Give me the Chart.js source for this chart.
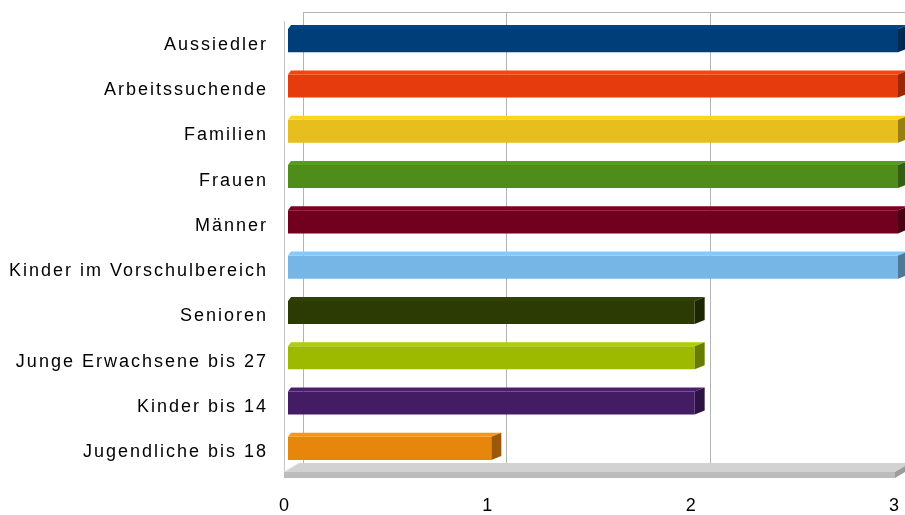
<!DOCTYPE html>
<html>
<head>
<meta charset="utf-8">
<script src="https://cdn.jsdelivr.net/npm/chart.js@4"></script>
<style>
    html, body { margin: 0; padding: 0; background: #fff; }
    #wrap { width: 905px; height: 515px; }
</style>
</head>
<body>
<div id="wrap"><canvas id="bar-chart-groups"></canvas></div>
<script>
    const categories = [
        'Aussiedler',
        'Arbeitssuchende',
        'Familien',
        'Frauen',
        'Männer',
        'Kinder im Vorschulbereich',
        'Senioren',
        'Junge Erwachsene bis 27',
        'Kinder bis 14',
        'Jugendliche bis 18'
    ];
    const counts = [3, 3, 3, 3, 3, 3, 2, 2, 2, 1];
    const xTicks = [0, 1, 2, 3];

    const baseColors = [
        '#004586', '#ff420e', '#ffd320', '#579d1c', '#7e0021',
        '#83caff', '#314004', '#aecf00', '#4b1f6f', '#ff950e'
    ];

    function shade(hex, f) {
        const n = parseInt(hex.slice(1), 16);
        const r = Math.round(((n >> 16) & 255) * f);
        const g = Math.round(((n >> 8) & 255) * f);
        const b = Math.round((n & 255) * f);
        return 'rgb(' + r + ',' + g + ',' + b + ')';
    }

    function noPadding(scale) {
        scale.paddingTop = 0;
        scale.paddingBottom = 0;
        scale.paddingLeft = 0;
        scale.paddingRight = 0;
    }

    // ------------------- 3D walls, floor and bar faces ------------------
    const depthX = 15, depthY = 9;     // back wall offset
    const barDX = 10, barDY = 4;       // bar depth

    const pseudo3d = {
        id: 'pseudo3d',
        beforeDraw(chart) {
            chart.ctx.letterSpacing = '2px';
        },
        beforeDatasetsDraw(chart) {
            const ctx = chart.ctx;
            const xs = chart.scales.x;
            const area = chart.chartArea;
            const x0 = xs.getPixelForValue(0);
            const xEnd = xs.getPixelForValue(xTicks[xTicks.length - 1]);
            const floorY = area.bottom + 1;
            const wallTop = area.top - 6;
            ctx.save();
            // back wall grid lines
            ctx.strokeStyle = '#b3b3b3';
            ctx.lineWidth = 1;
            xTicks.forEach(v => {
                const gx = Math.round(xs.getPixelForValue(v) + depthX) + 0.5;
                ctx.beginPath();
                ctx.moveTo(gx, wallTop);
                ctx.lineTo(gx, floorY - depthY);
                ctx.stroke();
            });
            ctx.beginPath();
            ctx.moveTo(x0 + depthX, wallTop + 0.5);
            ctx.lineTo(chart.width, wallTop + 0.5);
            ctx.stroke();
            // side wall edge
            ctx.strokeStyle = '#c4c4c4';
            ctx.beginPath();
            ctx.moveTo(x0 - 3.5, wallTop + depthY);
            ctx.lineTo(x0 - 3.5, floorY);
            ctx.stroke();
            // floor top
            ctx.fillStyle = '#d2d2d2';
            ctx.beginPath();
            ctx.moveTo(x0 - 4, floorY);
            ctx.lineTo(xEnd - 3, floorY);
            ctx.lineTo(xEnd - 3 + depthX, floorY - depthY);
            ctx.lineTo(x0 - 4 + depthX, floorY - depthY);
            ctx.closePath();
            ctx.fill();
            // floor front
            ctx.fillStyle = '#bcbcbc';
            ctx.fillRect(x0 - 4, floorY, xEnd - x0 + 1, 6);
            // floor right side
            ctx.fillStyle = '#9c9c9c';
            ctx.beginPath();
            ctx.moveTo(xEnd - 3, floorY);
            ctx.lineTo(xEnd - 3 + depthX, floorY - depthY);
            ctx.lineTo(xEnd - 3 + depthX, floorY - depthY + 6);
            ctx.lineTo(xEnd - 3, floorY + 6);
            ctx.closePath();
            ctx.fill();
            // corner line on floor
            ctx.strokeStyle = '#e6e6e6';
            ctx.beginPath();
            ctx.moveTo(x0 - 4, floorY);
            ctx.lineTo(x0 - 4 + depthX, floorY - depthY);
            ctx.stroke();
            ctx.restore();
        },
        afterDatasetsDraw(chart) {
            const ctx = chart.ctx;
            const meta = chart.getDatasetMeta(0);
            ctx.save();
            meta.data.forEach((bar, i) => {
                const p = bar.getProps(['x', 'y', 'base', 'height'], true);
                const top = p.y - p.height / 2;
                const bot = p.y + p.height / 2;
                // top face
                ctx.fillStyle = shade(baseColors[i], 1.0);
                ctx.beginPath();
                ctx.moveTo(p.base, top);
                ctx.lineTo(p.base + 3, top - barDY);
                ctx.lineTo(p.x + barDX, top - barDY);
                ctx.lineTo(p.x, top);
                ctx.closePath();
                ctx.fill();
                // right face
                ctx.fillStyle = shade(baseColors[i], 0.6);
                ctx.beginPath();
                ctx.moveTo(p.x, top);
                ctx.lineTo(p.x + barDX, top - barDY);
                ctx.lineTo(p.x + barDX, bot - barDY);
                ctx.lineTo(p.x, bot);
                ctx.closePath();
                ctx.fill();
            });
            ctx.restore();
        }
    };

    const data = {
        labels: categories,
        datasets: [{
            data: counts,
            backgroundColor: baseColors.map(c => shade(c, 0.9)),
            borderWidth: 0,
            categoryPercentage: 1,
            barPercentage: 0.51
        }]
    };

    // ------------------- Chart Options ------------------
    const chartOptions = {
        indexAxis: 'y',
        responsive: true,
        maintainAspectRatio: false,
        animation: false,
        layout: {
            padding: { top: 18, right: 7, left: 0, bottom: 0 }
        },
        plugins: {
            legend: { display: false },
            tooltip: { enabled: false }
        },
        scales: {
            x: {
                min: 0,
                max: 3,
                afterBuildTicks(scale) {
                    scale.ticks = xTicks.map(v => ({ value: v }));
                },
                afterFit(scale) {
                    scale.height = 44;
                    noPadding(scale);
                },
                grid: { display: false, drawTicks: false },
                border: { display: false },
                ticks: {
                    padding: 24,
                    labelOffset: -3,
                    color: '#000',
                    font: { family: 'Liberation Sans', size: 18 }
                }
            },
            y: {
                afterFit(scale) {
                    scale.width = 288;
                    noPadding(scale);
                },
                grid: { display: false, drawTicks: false },
                border: { display: false },
                ticks: {
                    padding: 20,
                    labelOffset: 4,
                    color: '#000',
                    font: { family: 'Liberation Sans', size: 18 }
                }
            }
        }
    };

    // ------------------- Chart Config ------------------
    const config = {
        type: 'bar',
        data: data,
        options: chartOptions,
        plugins: [pseudo3d]
    };

    // ------------------- Initialize Chart ------------------
    const myChart = new Chart(
        document.getElementById('bar-chart-groups'),
        config
    );
</script>
</body>
</html>
